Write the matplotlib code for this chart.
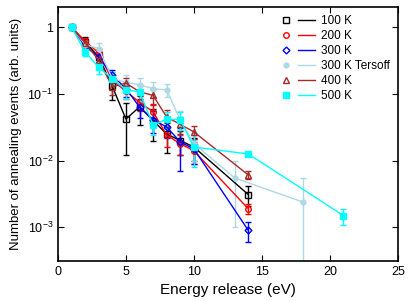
import matplotlib
matplotlib.use("Agg")
import matplotlib.pyplot as plt
from matplotlib.lines import Line2D
from matplotlib.legend_handler import HandlerTuple

plt.rcParams['font.family'] = ['Liberation Sans', 'DejaVu Sans']
plt.rcParams['mathtext.default'] = 'regular'

# energy release (eV)
x_main = [1, 2, 3, 4, 5, 6, 7, 8, 9, 10, 14]
x_tersoff = [1, 2, 3, 4, 5, 6, 7, 8, 9, 10, 13, 18]
x_500 = [1, 2, 3, 4, 5, 6, 7, 8, 9, 10, 14, 21]

y_100 = [1, 0.6, 0.36, 0.13, 0.042, 0.064, 0.04, 0.025, 0.02, 0.016, 0.0031]
e_100 = [0.05, 0.12, 0.06, 0.05, 0.03, 0.03, 0.02, 0.012, 0.008, 0.006, 0.001]
y_200 = [1, 0.62, 0.41, 0.16, 0.11, 0.075, 0.054, 0.024, 0.018, 0.014, 0.0019]
e_200 = [0.05, 0.08, 0.06, 0.03, 0.025, 0.02, 0.015, 0.008, 0.006, 0.005, 0.0003]
y_300 = [1, 0.52, 0.36, 0.19, 0.12, 0.064, 0.041, 0.032, 0.019, 0.015, 0.0009]
e_300 = [0.05, 0.08, 0.06, 0.04, 0.03, 0.02, 0.015, 0.01, 0.012, 0.006, 0.0003]
y_ters = [1, 0.55, 0.48, 0.17, 0.15, 0.137, 0.12, 0.115, 0.04, 0.018, 0.0055, 0.0024]
e_ters = [0.05, 0.08, 0.1, 0.04, 0.04, 0.035, 0.03, 0.025, 0.015, 0.008, 0.0045, 0.003]
y_400 = [1, 0.58, 0.32, 0.128, 0.145, 0.108, 0.095, 0.045, 0.035, 0.027, 0.0061]
e_400 = [0.05, 0.08, 0.06, 0.03, 0.03, 0.03, 0.025, 0.012, 0.01, 0.006, 0.0008]
y_500 = [1, 0.43, 0.25, 0.17, 0.115, 0.108, 0.034, 0.042, 0.041, 0.016, 0.0126, 0.0015]
e_500 = [0.05, 0.06, 0.05, 0.04, 0.03, 0.03, 0.01, 0.012, 0.012, 0.008, 0.0005, 0.0004]

labels = ["100 K", "200 K", "300 K", "300 K Tersoff", "400 K", "500 K"]

series = [
    (x_main, y_100, e_100, 'black', 's', 'none', 4),
    (x_main, y_200, e_200, 'red', 'o', 'none', 4),
    (x_main, y_300, e_300, 'blue', 'D', 'none', 3.5),
    (x_tersoff, y_ters, e_ters, '#add8e6', 'o', '#add8e6', 3.5),
    (x_main, y_400, e_400, '#a52a2a', '^', 'none', 4),
    (x_500, y_500, e_500, 'cyan', 's', 'cyan', 4.5),
]

fig = plt.figure(figsize=(4.11, 3.01), dpi=100)
ax = fig.add_axes([0.141, 0.134, 0.827, 0.842])

handles = []
for (xs, ys, es, col, mk, mfc, ms) in series:
    ax.errorbar(xs, ys, yerr=es, color=col, marker=mk, mfc=mfc, mec=col,
                ms=ms, lw=1.0, elinewidth=1.0, capsize=2, capthick=1.0)
    m = Line2D([], [], color=col, marker=mk, mfc=mfc, mec=col, ms=ms, ls='none')
    l = Line2D([], [], color=col, lw=1.0)
    handles.append((m, l))

ax.set_yscale('log')
ax.set_xlim(0, 25)
ax.set_ylim(10 ** -3.5, 2)
ax.set_xticks([0, 5, 10, 15, 20, 25])
ax.set_yticks([1e-3, 1e-2, 1e-1, 1])
ax.set_yticklabels(['$10^{-3}$', '$10^{-2}$', '$10^{-1}$', '1'])
ax.minorticks_off()
ax.tick_params(direction='in', top=True, right=True, labelsize=9, length=4)
ax.set_xlabel("Energy release (eV)", fontsize=11)
ax.set_ylabel("Number of annealing events (arb. units)", fontsize=9.5)
for s in ax.spines.values():
    s.set_linewidth(1.2)

ax.legend(handles, labels, handler_map={tuple: HandlerTuple(ndivide=None, pad=0.3)},
          loc='upper right', frameon=False, fontsize=8.5, handlelength=3.2,
          handletextpad=0.5, labelspacing=0.25, borderaxespad=0.3)

fig.savefig("out.png", dpi=100)
